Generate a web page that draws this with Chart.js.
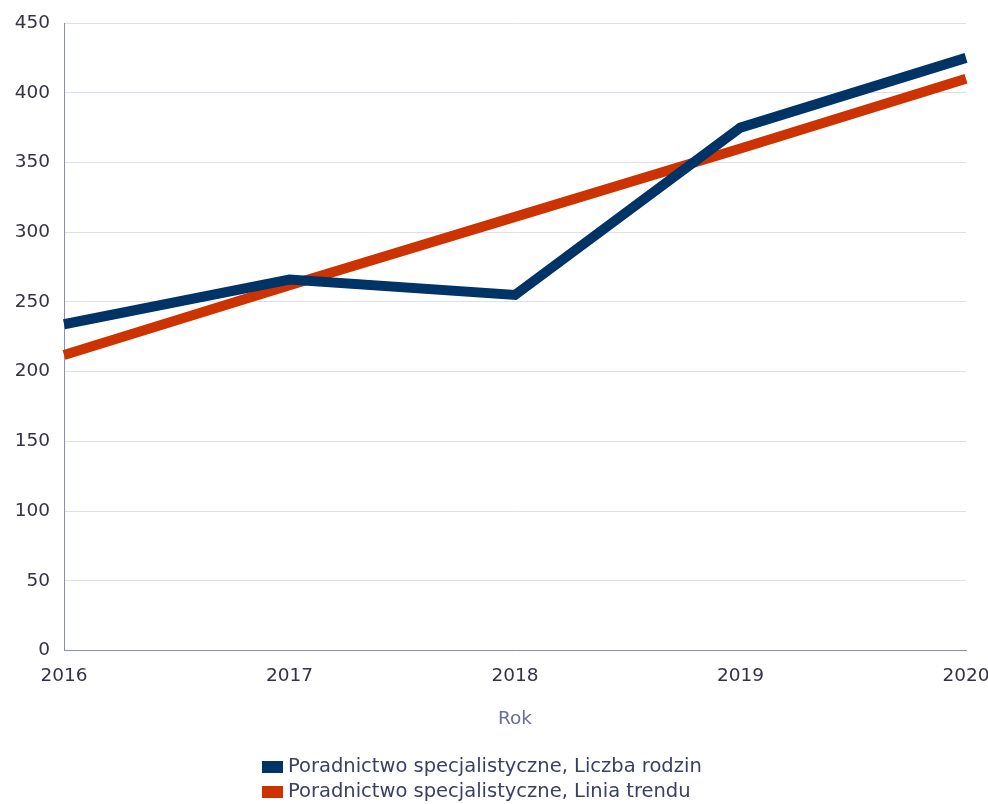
<!DOCTYPE html>
<html>
<head>
<meta charset="utf-8">
<script src="https://cdn.jsdelivr.net/npm/chart.js@4/dist/chart.umd.min.js"></script>
<style>
html,body{margin:0;padding:0;background:#fff;}
#wrap{position:relative;width:988px;height:804px;}
</style>
</head>
<body>
<div id="wrap"><canvas id="c" width="988" height="804"></canvas></div>
<script>
const years = ['2016', '2017', '2018', '2019', '2020'];
const liczbaRodzin = [234, 266, 255, 375, 425];
const liniaTrendu = [212, 262, 311, 360, 410];
const yTicks = [0, 50, 100, 150, 200, 250, 300, 350, 400, 450];
const seriesLabels = ['Poradnictwo specjalistyczne, Liczba rodzin', 'Poradnictwo specjalistyczne, Linia trendu'];
const seriesColors = ['#003366', '#cc3300'];
const xTitle = 'Rok';

const FONT = 'DejaVu Sans';

const legendPlugin = {
  id: 'customLegend',
  afterDraw(chart) {
    const ctx = chart.ctx;
    ctx.save();
    ctx.font = '19.5px "' + FONT + '"';
    ctx.textBaseline = 'middle';
    ctx.textAlign = 'left';
    chart.data.datasets.forEach((ds, i) => {
      const y = 767 + i * 25;
      ctx.fillStyle = ds.borderColor;
      ctx.fillRect(262, y - 6, 21, 12);
      ctx.fillStyle = '#3a3f66';
      ctx.fillText(ds.label, 288, y);
    });
    ctx.restore();
  }
};

new Chart(document.getElementById('c'), {
  type: 'line',
  data: {
    labels: years,
    datasets: [
      { label: seriesLabels[0], data: liczbaRodzin, borderColor: seriesColors[0], backgroundColor: seriesColors[0], borderWidth: 10, pointRadius: 0, tension: 0, borderJoinStyle: 'miter', borderCapStyle: 'butt' },
      { label: seriesLabels[1], data: liniaTrendu, borderColor: seriesColors[1], backgroundColor: seriesColors[1], borderWidth: 10, pointRadius: 0, tension: 0, borderCapStyle: 'butt' }
    ]
  },
  options: {
    responsive: false,
    animation: false,
    layout: { padding: { top: 23, right: 22, left: 0, bottom: 74 } },
    plugins: { legend: { display: false }, tooltip: { enabled: false } },
    scales: {
      x: {
        offset: false,
        grid: { display: false, drawTicks: false },
        border: { display: true, color: '#8a8cc0', width: 1 },
        ticks: { color: '#333344', font: { family: FONT, size: 18.5 }, padding: 14, maxRotation: 0 },
        title: { display: true, text: xTitle, color: '#6a6f9a', font: { family: FONT, size: 18.5 }, padding: { top: 7, bottom: 0 } },
        afterFit(scale) { scale.paddingLeft = 0; scale.paddingRight = 0; }
      },
      y: {
        min: 0, max: 450,
        afterBuildTicks(scale) { scale.ticks = yTicks.map(v => ({ value: v })); },
        grid: { color: '#dedfea', lineWidth: 1, drawTicks: false },
        border: { display: true, color: '#8a8cc0', width: 1 },
        ticks: { color: '#333344', font: { family: FONT, size: 18.5 }, padding: 14 },
        afterFit(scale) { scale.width = 64; scale.paddingTop = 0; scale.paddingBottom = 0; }
      }
    }
  },
  plugins: [legendPlugin]
});
</script>
</body>
</html>
